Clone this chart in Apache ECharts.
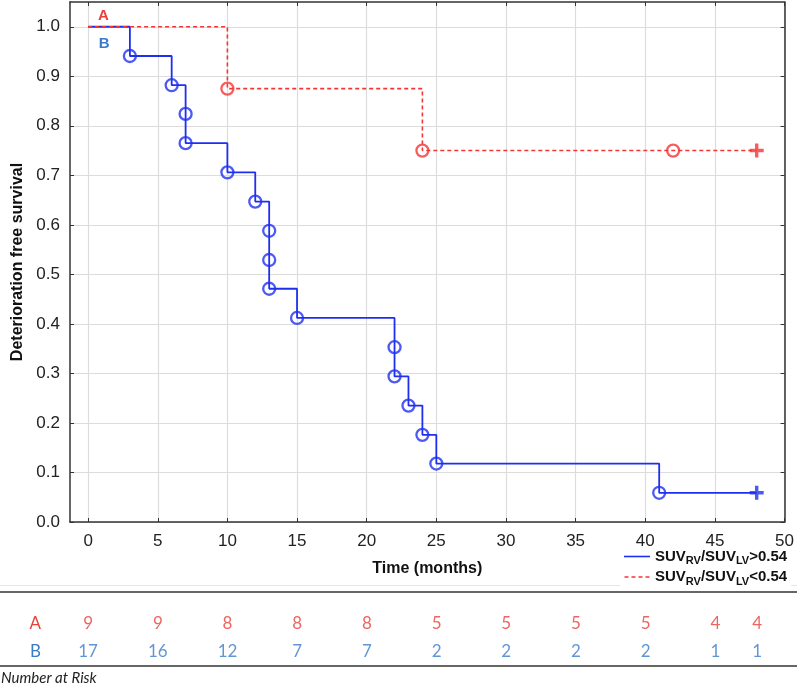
<!DOCTYPE html>
<html><head><meta charset="utf-8">
<script src="https://cdn.jsdelivr.net/npm/echarts@6/dist/echarts.min.js"></script>
<style>html,body{margin:0;padding:0;background:#fff}#c{width:797px;height:687px}</style>
</head><body><div id="c"></div>
<script>
const xTicks = [0, 5, 10, 15, 20, 25, 30, 35, 40, 45, 50];
const yTicks = [0, 0.1, 0.2, 0.3, 0.4, 0.5, 0.6, 0.7, 0.8, 0.9, 1.0];

const blueEventT = [3, 6, 7, 7, 10, 12, 13, 13, 13, 15, 22, 22, 23, 24, 25, 41];
const blueEventS = [0.941, 0.882, 0.824, 0.765, 0.706, 0.647, 0.588, 0.529, 0.471, 0.412, 0.353, 0.294, 0.235, 0.176, 0.118, 0.059];
const blueCensorT = [48];
const blueCensorS = [0.059];

const redEventT = [10, 24, 42];
const redEventS = [0.875, 0.75, 0.75];
const redCensorT = [48];
const redCensorS = [0.75];

const riskTimes = [0, 5, 10, 15, 20, 25, 30, 35, 40, 45, 48];
const riskA = [9, 9, 8, 8, 8, 5, 5, 5, 5, 4, 4];
const riskB = [17, 16, 12, 7, 7, 2, 2, 2, 2, 1, 1];
const groups = ['A', 'B'];

const annotText = ['A', 'B'];
const annotX = [1.1, 1.15];
const annotY = [1.022, 0.966];

const seriesNames = ['SUVRV/SUVLV>0.54', 'SUVRV/SUVLV<0.54'];
const legendRich = {
  'SUVRV/SUVLV>0.54': '{b|SUV}{s|RV}{b|/SUV}{s|LV}{b|>0.54}',
  'SUVRV/SUVLV<0.54': '{b|SUV}{s|RV}{b|/SUV}{s|LV}{b|<0.54}'
};

const BLUE = '#1f2ff0';
const RED = '#f53535';
const TBLUE = '#3b7cc8';
const TRED = '#e8403a';

function zip(a, b) { return a.map((v, i) => [v, b[i]]); }
const blueLine = [[0, 1]].concat(zip(blueEventT, blueEventS), zip(blueCensorT, blueCensorS));
const redLine = [[0, 1]].concat(zip(redEventT, redEventS), zip(redCensorT, redCensorS));

const plusPath = 'path://M5.3,0H8.7V5.3H14V8.7H8.7V14H5.3V8.7H0V5.3H5.3Z';
const solidIcon = 'path://M0,0H26V1.6H0Z';
const dashIcon = 'path://M0,0H4V1.6H0Z M7,0H11V1.6H7Z M14,0H18V1.6H14Z M21,0H25V1.6H21Z';
const F = "'Liberation Sans', Arial, sans-serif";
const TF = "Lato, 'Noto Sans', sans-serif";

const chart = echarts.init(document.getElementById('c'), null, {renderer: 'canvas'});
chart.setOption({
  animation: false,
  backgroundColor: '#fff',
  title: {
    text: 'Number at Risk', left: 1, top: 671, padding: 0,
    textStyle: {fontFamily: TF, fontStyle: 'italic', fontWeight: 'normal', fontSize: 15, color: '#222'}
  },
  legend: {
    data: [
      {name: seriesNames[0], icon: solidIcon, itemStyle: {color: BLUE}},
      {name: seriesNames[1], icon: dashIcon, itemStyle: {color: RED}}
    ],
    orient: 'vertical', left: 620, top: 547,
    itemWidth: 26, itemHeight: 1.6, itemGap: 3,
    backgroundColor: '#fff', padding: [2, 4, 2, 4], z: 10,
    formatter: n => legendRich[n],
    textStyle: {
      color: '#111',
      rich: {
        b: {fontFamily: F, fontSize: 15, fontWeight: 'bold', color: '#111', lineHeight: 20},
        s: {fontFamily: F, fontSize: 11, fontWeight: 'bold', color: '#111', lineHeight: 13, verticalAlign: 'bottom'}
      }
    }
  },
  grid: [
    {left: 70, right: 12, top: 2, bottom: 165},
    {left: 70, right: 12, top: 610, height: 56}
  ],
  xAxis: [
    {
      gridIndex: 0, type: 'value', min: -1.3, max: 50, position: 'bottom',
      name: 'Time (months)', nameLocation: 'middle', nameGap: 39,
      nameTextStyle: {fontFamily: F, fontSize: 16, fontWeight: 'bold', color: '#111'},
      axisLine: {show: true, onZero: false, lineStyle: {color: '#333', width: 1.5}},
      axisTick: {show: true, inside: true, length: 4, customValues: xTicks, lineStyle: {color: '#333'}},
      axisLabel: {customValues: xTicks, fontFamily: F, fontSize: 17, color: '#222', margin: 11},
      splitLine: {show: true, lineStyle: {color: '#dcdcdc', width: 1.2}}
    },
    {
      gridIndex: 0, type: 'value', min: -1.3, max: 50, position: 'top',
      axisLine: {show: true, onZero: false, lineStyle: {color: '#333', width: 1.5}},
      axisTick: {show: true, inside: true, length: 4, customValues: xTicks, lineStyle: {color: '#333'}},
      axisLabel: {show: false}, splitLine: {show: false}
    },
    {gridIndex: 1, type: 'value', min: -1.3, max: 50, show: false}
  ],
  yAxis: [
    {
      gridIndex: 0, type: 'value', min: 0, max: 1.05, position: 'left',
      name: 'Deterioration free survival', nameLocation: 'middle', nameGap: 43,
      nameTextStyle: {fontFamily: F, fontSize: 16, fontWeight: 'bold', color: '#111'},
      axisLine: {show: true, onZero: false, lineStyle: {color: '#333', width: 1.5}},
      axisTick: {show: true, inside: true, length: 4, customValues: yTicks, lineStyle: {color: '#333'}},
      axisLabel: {customValues: yTicks, fontFamily: F, fontSize: 17, color: '#222', margin: 10, formatter: v => v.toFixed(1)},
      splitLine: {show: true, lineStyle: {color: '#dcdcdc', width: 1.2}}
    },
    {
      gridIndex: 0, type: 'value', min: 0, max: 1.05, position: 'right',
      axisLine: {show: true, onZero: false, lineStyle: {color: '#333', width: 1.5}},
      axisTick: {show: true, inside: true, length: 4, customValues: yTicks, lineStyle: {color: '#333'}},
      axisLabel: {show: false}, splitLine: {show: false}
    },
    {
      gridIndex: 1, type: 'category', data: groups, inverse: true,
      axisLine: {show: false}, axisTick: {show: false}, splitLine: {show: false},
      axisLabel: {
        margin: 29, fontFamily: TF, fontSize: 17,
        formatter: v => '{' + v + '|' + v + '}',
        rich: {A: {color: TRED, fontFamily: TF, fontSize: 17}, B: {color: TBLUE, fontFamily: TF, fontSize: 17}}
      }
    }
  ],
  graphic: [
    {type: 'line', z: 1, shape: {x1: 0, y1: 585.5, x2: 797, y2: 585.5}, style: {stroke: '#e6e6e6', lineWidth: 1}},
    {type: 'line', z: 1, shape: {x1: 0, y1: 592, x2: 797, y2: 592}, style: {stroke: '#333', lineWidth: 1.6}},
    {type: 'line', z: 1, shape: {x1: 0, y1: 666, x2: 797, y2: 666}, style: {stroke: '#333', lineWidth: 1.6}}
  ],
  series: [
    {
      name: seriesNames[0], type: 'line', xAxisIndex: 0, yAxisIndex: 0, step: 'end',
      data: blueLine, symbol: 'none', z: 3,
      lineStyle: {color: BLUE, width: 1.8}, itemStyle: {color: BLUE},
      markPoint: {
        symbol: 'circle', symbolSize: 1, itemStyle: {color: 'rgba(0,0,0,0)'},
        label: {show: true, position: 'inside', fontFamily: F, fontWeight: 'bold', fontSize: 15},
        data: annotText.map((t, i) => ({coord: [annotX[i], annotY[i]], value: t,
          label: {formatter: t, color: i === 0 ? TRED : TBLUE}}))
      }
    },
    {
      name: seriesNames[1], type: 'line', xAxisIndex: 0, yAxisIndex: 0, step: 'end',
      data: redLine, symbol: 'none', z: 4,
      lineStyle: {color: RED, width: 1.6, type: [4, 3]}, itemStyle: {color: RED}
    },
    {
      type: 'scatter', xAxisIndex: 0, yAxisIndex: 0, data: zip(blueEventT, blueEventS),
      symbol: 'circle', symbolSize: 12, z: 5,
      itemStyle: {color: 'rgba(255,255,255,0)', borderColor: BLUE, borderWidth: 2.3}
    },
    {
      type: 'scatter', xAxisIndex: 0, yAxisIndex: 0, data: zip(redEventT, redEventS),
      symbol: 'circle', symbolSize: 12, z: 5,
      itemStyle: {color: 'rgba(255,255,255,0)', borderColor: RED, borderWidth: 2.3}
    },
    {
      type: 'scatter', xAxisIndex: 0, yAxisIndex: 0, data: zip(blueCensorT, blueCensorS),
      symbol: plusPath, symbolSize: 14, z: 5, itemStyle: {color: BLUE}
    },
    {
      type: 'scatter', xAxisIndex: 0, yAxisIndex: 0, data: zip(redCensorT, redCensorS),
      symbol: plusPath, symbolSize: 14, z: 5, itemStyle: {color: RED}
    },
    {
      type: 'scatter', xAxisIndex: 2, yAxisIndex: 2,
      data: riskTimes.map((t, i) => [t, 'A', riskA[i]]),
      symbolSize: 0,
      label: {show: true, position: 'inside', formatter: p => p.value[2], fontFamily: TF, fontSize: 17, color: TRED}
    },
    {
      type: 'scatter', xAxisIndex: 2, yAxisIndex: 2,
      data: riskTimes.map((t, i) => [t, 'B', riskB[i]]),
      symbolSize: 0,
      label: {show: true, position: 'inside', formatter: p => p.value[2], fontFamily: TF, fontSize: 17, color: TBLUE}
    }
  ]
});
</script>
</body></html>
